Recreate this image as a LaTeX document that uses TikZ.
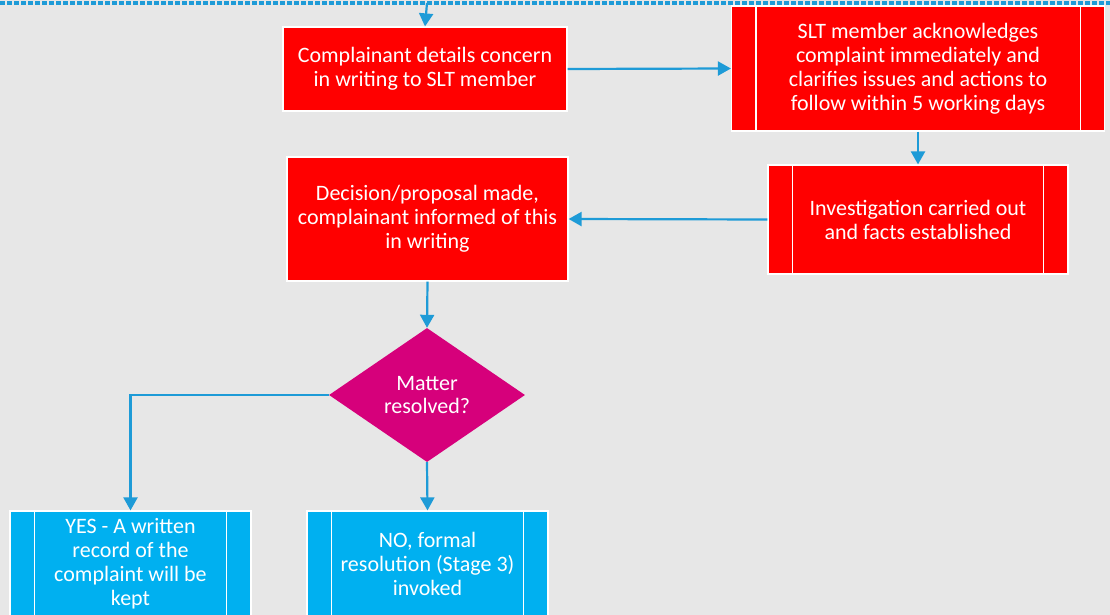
\documentclass[tikz,border=0pt]{standalone}
\usepackage{fontspec}
\setmainfont{Carlito}
\usetikzlibrary{arrows.meta,shapes.geometric}
\definecolor{bg}{HTML}{E7E7E7}
\definecolor{boxred}{HTML}{FF0000}
\definecolor{boxblue}{HTML}{00B0F0}
\definecolor{dmag}{HTML}{D6007B}
\definecolor{arr}{HTML}{1E9BD7}
\begin{document}
\begin{tikzpicture}[x=1pt,y=-1pt,
 box/.style={draw=white, line width=1.2pt, text=white, align=center, font=\fontsize{22}{24}\selectfont, inner sep=0pt},
 redbox/.style={box, fill=boxred},
 bluebox/.style={box, fill=boxblue},
 decision/.style={diamond, fill=dmag, text=white, align=center, font=\fontsize{22}{23}\selectfont, inner sep=0pt},
 conn/.style={draw=arr, line width=2.2pt, -{Triangle[length=13pt,width=14pt]}},
 sideline/.style={draw=white, line width=1.2pt}]
\clip (0,0) rectangle (1110,615);
\fill[bg] (0,0) rectangle (1110,615);
\draw[arr, line width=4pt, dash pattern=on 4.5pt off 2.5pt] (0,3) -- (1110,3);
\coordinate (top) at (427,3);

\node[redbox, minimum width=284pt, minimum height=84pt] (b1) at (425,69)
  {Complainant details concern\\in writing to SLT member};
\node[redbox, minimum width=373pt, minimum height=125pt] (b2) at (918,68.5)
  {SLT member acknowledges\\complaint immediately and\\clarifies issues and actions to\\follow within 5 working days};
\node[redbox, minimum width=300pt, minimum height=109pt] (b3) at (918,219.5)
  {Investigation carried out\\and facts established};
\node[redbox, minimum width=281pt, minimum height=124pt] (b4) at (427.5,219)
  {Decision/proposal made,\\complainant informed of this\\in writing};
\node[decision, minimum width=196pt, minimum height=134pt] (d) at (427,395)
  {Matter\\resolved?};
\node[bluebox, minimum width=241pt, minimum height=106pt] (b5) at (130.5,564)
  {YES - A written\\record of the\\complaint will be\\kept};
\node[bluebox, minimum width=241pt, minimum height=106pt] (b6) at (427.5,564)
  {NO, formal\\resolution (Stage 3)\\invoked};

\foreach \n in {b2,b3,b5,b6}{
  \draw[sideline] ([xshift=25pt]\n.north west) -- ([xshift=25pt]\n.south west);
  \draw[sideline] ([xshift=-25pt]\n.north east) -- ([xshift=-25pt]\n.south east);
}

\draw[conn] (top) -- (b1.north);
\draw[conn] (b1.east) -- (b2.west);
\draw[conn] (b2.south) -- (b3.north);
\draw[conn] (b3.west) -- (b4.east);
\draw[conn] (b4.south) -- (d.north);
\draw[conn] (d.west) -| (b5.north);
\draw[conn] (d.south) -- (b6.north);
\end{tikzpicture}
\end{document}
